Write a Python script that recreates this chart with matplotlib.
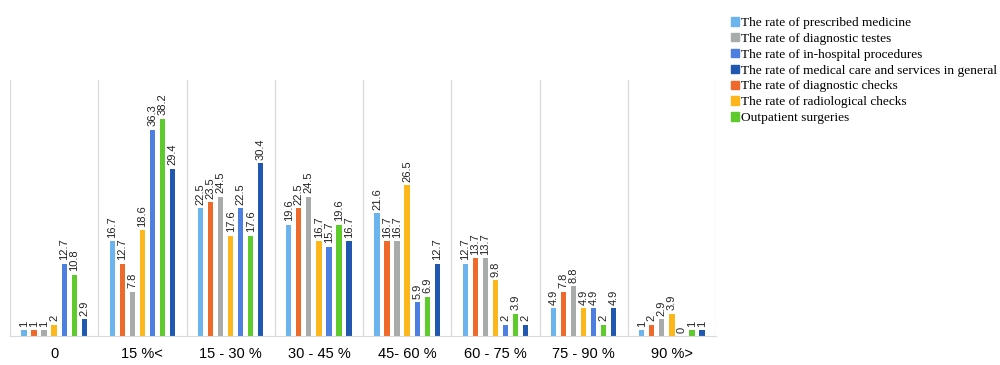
import numpy as np
import matplotlib.pyplot as plt
from matplotlib.patches import Patch

groups = ['0', '15 %<', '15 - 30 %', '30 - 45 %', '45- 60 %', '60 - 75 %', '75 - 90 %', '90 %>']

# series in bar order within each group
prescribed = [1, 16.7, 22.5, 19.6, 21.6, 12.7, 4.9, 1]
diag_checks = [1, 12.7, 23.5, 22.5, 16.7, 13.7, 7.8, 2]
diag_testes = [1, 7.8, 24.5, 24.5, 16.7, 13.7, 8.8, 2.9]
radiological = [2, 18.6, 17.6, 16.7, 26.5, 9.8, 4.9, 3.9]
in_hospital = [12.7, 36.3, 22.5, 15.7, 5.9, 2, 4.9, 0]
outpatient = [10.8, 38.2, 17.6, 19.6, 6.9, 3.9, 2, 1]
general = [2.9, 29.4, 30.4, 16.7, 12.7, 2, 4.9, 1]

series = [
    ('The rate of prescribed medicine', prescribed, '#6BB4EE'),
    ('The rate of diagnostic checks', diag_checks, '#EF6A2A'),
    ('The rate of diagnostic testes', diag_testes, '#A7ABAA'),
    ('The rate of radiological checks', radiological, '#FDB71A'),
    ('The rate of in-hospital procedures', in_hospital, '#4C7FE0'),
    ('Outpatient surgeries', outpatient, '#5ECB2C'),
    ('The rate of medical care and services in general', general, '#2058B0'),
]
legend_order = [0, 2, 4, 6, 1, 3, 5]

fig = plt.figure(figsize=(10, 3.65), dpi=100)
ax = fig.add_axes([0.01, 0.0795, 0.706, 0.701])

x = np.arange(len(groups))
step = 0.114
width = 0.06
for i, (name, vals, col) in enumerate(series):
    pos = x + (i - 3) * step
    ax.bar(pos, vals, width=width, color=col)
    for p, v in zip(pos, vals):
        ax.text(p, v + 0.6, f'{v:g}', rotation=90, ha='center', va='bottom',
                fontsize=8, color='#222222', family='Liberation Sans')

for b in np.arange(len(groups) + 1) - 0.5:
    ax.axvline(b, color='#D9D9D9', lw=0.9, zorder=0)

ax.set_xlim(-0.5, len(groups) - 0.5)
ax.set_ylim(0, 45)
ax.set_yticks([])
ax.set_xticks(x)
ax.set_xticklabels(groups, fontsize=10.5, family='Liberation Sans')
ax.tick_params(axis='x', length=0, pad=8)
for s in ['top', 'left', 'right']:
    ax.spines[s].set_visible(False)
ax.spines['bottom'].set_color('#D9D9D9')

handles = [Patch(color=series[i][2], label=series[i][0]) for i in legend_order]
fig.legend(handles=handles, loc='upper left', bbox_to_anchor=(0.726, 0.968),
           frameon=False, handlelength=0.6, handleheight=0.6, handletextpad=0.1,
           labelspacing=0.29, borderaxespad=0,
           prop={'family': 'Liberation Serif', 'size': 9.6})

fig.savefig('out.png', dpi=100)
